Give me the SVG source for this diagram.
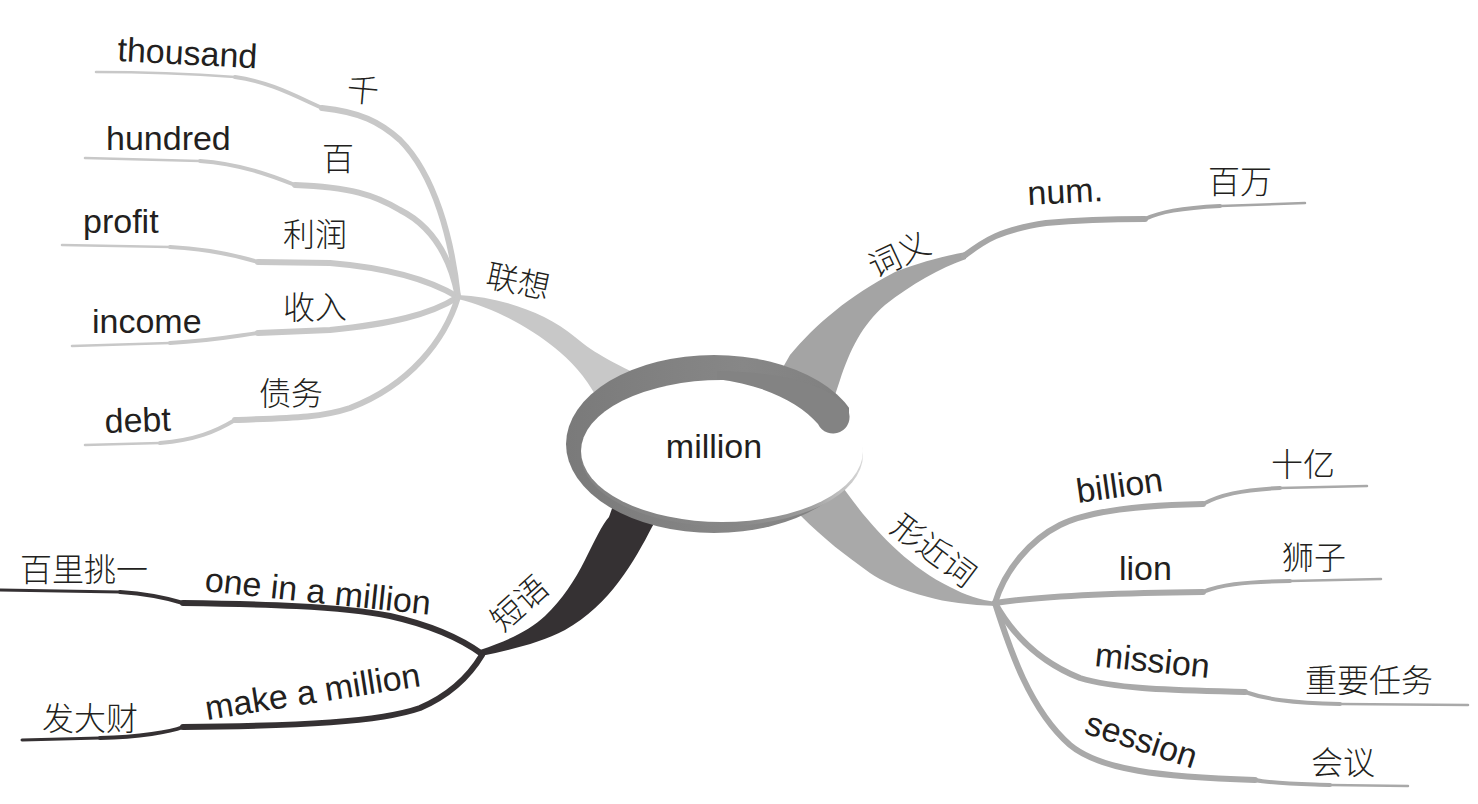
<svg xmlns="http://www.w3.org/2000/svg" width="1478" height="804" viewBox="0 0 1478 804">
<style>
.en{font-family:"Liberation Sans",Arial,sans-serif;font-size:34px;fill:#231f20}
.zh{font-family:"Noto Sans CJK SC",sans-serif;font-size:32px;font-weight:300;fill:#231f20;text-anchor:middle}
.l1{fill:none;stroke:#c8c8c8;stroke-linecap:round;stroke-linejoin:round}
.l2{fill:none;stroke:#a6a6a6;stroke-linecap:round;stroke-linejoin:round}
.l3{fill:none;stroke:#a9a9a9;stroke-linecap:round;stroke-linejoin:round}
.l4{fill:none;stroke:#353133;stroke-linecap:round;stroke-linejoin:round}
.w1{stroke-width:6}.w2{stroke-width:4}.w3{stroke-width:2.5}
</style>
<defs>
<linearGradient id="ringG" x1="0" y1="0" x2="1" y2="0">
<stop offset="0" stop-color="#7a7a7a"/><stop offset="0.6" stop-color="#878787"/><stop offset="1" stop-color="#7f7f7f"/>
</linearGradient>
<linearGradient id="edgeG" gradientUnits="userSpaceOnUse" x1="581" y1="0" x2="863" y2="0">
<stop offset="0" stop-color="#848484"/><stop offset="0.55" stop-color="#868686"/><stop offset="0.8" stop-color="#9c9c9c"/><stop offset="1" stop-color="#d8d8d8"/>
</linearGradient>
</defs>
<rect width="1478" height="804" fill="#ffffff"/>

<g id="connectors">
<!-- 联想 thick branch -->
<path fill="#c8c8c8" d="M 458 295 C 500 297 545 312 575 337 C 595 354 615 364 660 385 L 630 430 L 598 400 C 585 375 570 360 555 348 C 530 328 495 308 458 299 Z"/>
<!-- 联想 sub-lines -->
<path class="l1 w1" d="M 458 297 C 452 240 435 175 400 140 C 380 122 360 112 322 108"/>
<path class="l1 w2" d="M 322 108 C 295 96 270 82 235 77"/>
<path class="l1 w3" d="M 235 77 C 180 73 130 72 96 72"/>
<path class="l1 w1" d="M 458 297 C 450 255 430 225 400 210 C 375 195 350 187 295 185"/>
<path class="l1 w2" d="M 295 185 C 270 175 240 164 200 161"/>
<path class="l1 w3" d="M 200 161 L 85 158"/>
<path class="l1 w1" d="M 458 297 C 430 280 390 268 330 263 L 258 262"/>
<path class="l1 w2" d="M 258 262 C 235 255 210 249 170 247"/>
<path class="l1 w3" d="M 170 247 L 62 245"/>
<path class="l1 w1" d="M 458 297 C 430 315 390 324 330 330 L 258 333"/>
<path class="l1 w2" d="M 258 333 C 230 337 210 341 170 343"/>
<path class="l1 w3" d="M 170 343 L 72 346"/>
<path class="l1 w1" d="M 458 297 C 445 340 410 385 350 408 C 320 418 290 418 235 420"/>
<path class="l1 w2" d="M 235 420 C 215 432 195 440 160 443"/>
<path class="l1 w3" d="M 160 443 L 85 445"/>

<!-- 词义 thick branch -->
<path fill="#a4a4a4" d="M 770 390 L 790 355 C 815 325 850 295 895 272 C 920 262 945 256 966 252 L 966 259 C 940 268 912 284 885 305 C 862 325 850 350 840 380 L 830 410 Z"/>
<path class="l2 w1" d="M 964 256 C 985 240 1000 230 1046 223 C 1090 219 1120 219 1145 219"/>
<path class="l2 w2" d="M 1145 219 C 1160 212 1180 208 1220 206"/>
<path class="l2 w3" d="M 1220 206 L 1305 203"/>

<!-- 形近词 thick branch -->
<path fill="#a9a9a9" d="M 830 470 L 847 493 C 870 525 905 565 950 587 C 965 595 980 600 996 602 L 996 606 C 970 605 945 602 928 597 C 900 590 880 580 870 573 C 845 555 825 540 800 515 Z"/>
<path class="l3 w1" d="M 995 603 C 1005 570 1030 540 1060 525 C 1090 510 1150 505 1203 504"/>
<path class="l3 w2" d="M 1203 504 C 1220 495 1240 490 1280 488"/>
<path class="l3 w3" d="M 1280 488 L 1367 486"/>
<path class="l3 w1" d="M 995 603 C 1040 596 1120 593 1203 592"/>
<path class="l3 w2" d="M 1203 592 C 1220 585 1240 582 1290 581"/>
<path class="l3 w3" d="M 1290 581 L 1381 579"/>
<path class="l3 w1" d="M 995 603 C 1010 630 1035 660 1080 678 C 1120 690 1180 690 1245 692"/>
<path class="l3 w2" d="M 1245 692 C 1265 699 1290 703 1340 704"/>
<path class="l3 w3" d="M 1340 704 L 1468 705"/>
<path class="l3 w1" d="M 995 603 C 1010 650 1030 710 1070 745 C 1100 770 1160 777 1255 780"/>
<path class="l3 w2" d="M 1255 780 C 1275 784 1300 784 1330 785"/>
<path class="l3 w3" d="M 1330 785 L 1408 786"/>

<!-- 短语 thick branch -->
<path fill="#353133" d="M 615 500 L 665 505 L 652 527 C 635 560 610 605 565 630 C 540 643 510 650 481 656 L 480 650 C 510 640 530 630 545 616 C 562 600 575 580 585 560 C 595 540 602 525 609 517 Z"/>
<path class="l4 w1" d="M 482 654 C 460 638 430 625 390 616 C 340 606 260 604 183 603"/>
<path class="l4 w2" d="M 183 603 C 170 599 150 594 120 592"/>
<path class="l4" stroke-width="3" d="M 120 592 L 0 590"/>
<path class="l4 w1" d="M 482 655 C 470 675 450 695 420 708 C 380 722 300 726 183 727"/>
<path class="l4 w2" d="M 183 727 C 170 732 140 737 100 738"/>
<path class="l4" stroke-width="3" d="M 100 738 L 22 740"/>
</g>

<g id="center">
<ellipse cx="714" cy="444" rx="148" ry="89" fill="url(#ringG)"/>
<path fill="#ffffff" d="M 849 392 L 872 392 L 872 446 L 849 446 Z"/>
<ellipse cx="722" cy="455" rx="141" ry="71" fill="url(#edgeG)"/>
<ellipse cx="722" cy="451" rx="141" ry="71" fill="#ffffff"/>
<path fill="#838383" d="M 717 379 C 765 385 800 403 818 424 A 15 15 0 0 0 848 410 C 838 392 800 372 717 371 Z"/>
<text x="714" y="458" class="en" font-size="33" text-anchor="middle">million</text>
</g>

<g id="n-lianxiang"><text class="zh" transform="translate(518,282) rotate(12)" y="11">联想</text></g>
<g id="n-thousand"><text class="en" transform="translate(117,61) rotate(3)">thousand</text></g>
<g id="n-qian"><text class="zh" font-size="30" transform="translate(363,91) rotate(5)" y="11">千</text></g>
<g id="n-hundred"><text class="en" x="106" y="150">hundred</text></g>
<g id="n-bai"><text class="zh" font-size="30" x="338" y="170">百</text></g>
<g id="n-profit"><text class="en" x="83" y="233">profit</text></g>
<g id="n-lirun"><text class="zh" x="315" y="246">利润</text></g>
<g id="n-income"><text class="en" x="92" y="333">income</text></g>
<g id="n-shouru"><text class="zh" x="315" y="319">收入</text></g>
<g id="n-debt"><text class="en" transform="translate(105,433) rotate(-2)">debt</text></g>
<g id="n-zhaiwu"><text class="zh" x="291" y="405">债务</text></g>

<g id="n-ciyi"><text class="zh" font-size="33" transform="translate(899,254) rotate(-25)" y="12">词义</text></g>
<g id="n-num"><text class="en" font-size="35" transform="translate(1028,205) rotate(-3)">num.</text></g>
<g id="n-baiwan"><text class="zh" x="1240" y="193">百万</text></g>

<g id="n-xingjinci"><text class="zh" font-size="33" transform="translate(934,550) rotate(37)" y="12">形近词</text></g>
<g id="n-billion"><text class="en" font-size="35" transform="translate(1078,503) rotate(-8)">billion</text></g>
<g id="n-shiyi"><text class="zh" x="1303" y="476">十亿</text></g>
<g id="n-lion"><text class="en" font-size="33" x="1119" y="580">lion</text></g>
<g id="n-shizi"><text class="zh" x="1314" y="569">狮子</text></g>
<g id="n-mission"><text class="en" font-size="33" transform="translate(1094,666) rotate(6)">mission</text></g>
<g id="n-zhongyao"><text class="zh" font-size="34" x="1369" y="692">重要任务</text></g>
<g id="n-session"><text class="en" font-size="32" transform="translate(1083,733) rotate(18)">session</text></g>
<g id="n-huiyi"><text class="zh" font-size="34" x="1343" y="774">会议</text></g>

<g id="n-duanyu"><text class="zh" font-size="33" transform="translate(519,603) rotate(-42)" y="12">短语</text></g>
<g id="n-oneinamillion"><text class="en" transform="translate(204,591) rotate(6)">one in a million</text></g>
<g id="n-bailitiaoyi"><text class="zh" font-size="34" x="84" y="581">百里挑一</text></g>
<g id="n-makeamillion"><text class="en" transform="translate(207,720) rotate(-9)">make a million</text></g>
<g id="n-fadacai"><text class="zh" font-size="33" x="90" y="730">发大财</text></g>
</svg>
